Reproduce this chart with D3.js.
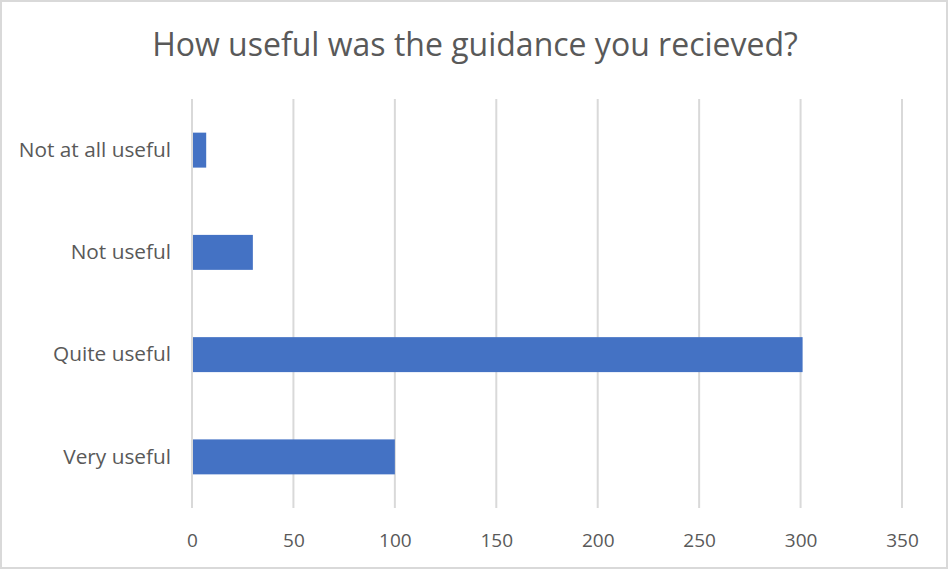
<!DOCTYPE html>
<html>
<head>
<meta charset="utf-8">
<script src="https://cdn.jsdelivr.net/npm/d3@7"></script>
<style>
  body { margin: 0; background: #fff; }
  svg text { font-family: "Open Sans", "Noto Sans", sans-serif; fill: #595959; }
</style>
</head>
<body>
<div id="chart"></div>
<script>
// Chart data
const categories = ["Not at all useful", "Not useful", "Quite useful", "Very useful"];
const responses = [7, 30, 301, 100];
const xTicks = [0, 50, 100, 150, 200, 250, 300, 350];
const chartTitle = "How useful was the guidance you recieved?";

const W = 950, H = 571;
const margin = {top: 99, right: 48, bottom: 63, left: 192};
const width = W - margin.left - margin.right;
const height = H - margin.top - margin.bottom;

const svg = d3.select("#chart").append("svg")
    .attr("width", W)
    .attr("height", H);

// outer border
svg.append("rect")
    .attr("x", 1).attr("y", 1)
    .attr("width", W - 4).attr("height", H - 4)
    .attr("fill", "#fff")
    .attr("stroke", "#d9d9d9")
    .attr("stroke-width", 2);

// title
svg.append("text")
    .attr("x", 475)
    .attr("y", 56)
    .attr("text-anchor", "middle")
    .style("font-size", "32px")
    .text(chartTitle);

const g = svg.append("g")
    .attr("transform", "translate(" + margin.left + "," + margin.top + ")");

const x = d3.scaleLinear()
    .domain([0, 350])
    .range([0, width]);

const y = d3.scaleBand()
    .domain(categories)
    .range([0, height])
    .paddingInner(0.658)
    .paddingOuter(0.329);

// gridlines
g.selectAll("line.grid")
    .data(xTicks)
    .enter().append("line")
    .attr("class", "grid")
    .attr("x1", d => x(d)).attr("x2", d => x(d))
    .attr("y1", 0).attr("y2", height)
    .attr("stroke", "#d9d9d9")
    .attr("stroke-width", 2);

// bars
g.selectAll("rect.bar")
    .data(responses)
    .enter().append("rect")
    .attr("class", "bar")
    .attr("x", x(0) + 1)
    .attr("y", (d, i) => y(categories[i]))
    .attr("width", d => x(d) - x(0) - 1)
    .attr("height", y.bandwidth())
    .attr("fill", "#4472c4");

// x axis labels
const xAxis = g.append("g")
    .attr("transform", "translate(0," + height + ")")
    .call(d3.axisBottom(x).tickValues(xTicks).tickSize(0).tickPadding(26));
xAxis.select(".domain").remove();
xAxis.selectAll("text").style("font-size", "19px").attr("fill", "#595959");

// y axis labels
const yAxis = g.append("g")
    .call(d3.axisLeft(y).tickSize(0).tickPadding(21));
yAxis.select(".domain").remove();
yAxis.selectAll("text").style("font-size", "20.8px").attr("fill", "#595959");
</script>
</body>
</html>
